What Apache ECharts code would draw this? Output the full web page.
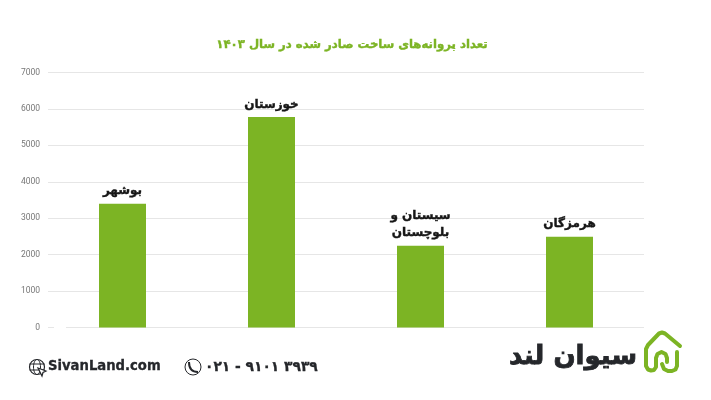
<!DOCTYPE html>
<html><head><meta charset="utf-8">
<style>html,body{margin:0;padding:0;background:#fff}#c{width:711px;height:400px}</style>
<script src="https://cdn.jsdelivr.net/npm/echarts@6/dist/echarts.min.js"></script>
</head><body><div id="c"></div>
<script>
const categories = ['بوشهر','خوزستان','سیستان و\nبلوچستان','هرمزگان'];
const permits = [3400,5780,2245,2490];
const titleText = 'تعداد پروانه‌های ساخت صادر شده در سال ۱۴۰۳';
const siteText = 'SivanLand.com';
const phoneText = '۰۲۱ - ۹۱۰۱ ۳۹۳۹';
const brandText = 'سیوان لند';
const green = '#7cb424', dark = '#25272b';
const font = '"DejaVu Sans"';
const chart = echarts.init(document.getElementById('c'), null, {renderer:'canvas'});
chart.setOption({
  animation:false,
  backgroundColor:'#fff',
  title:{text:titleText,left:347,top:34,textAlign:'center',
    textStyle:{color:green,fontFamily:font,fontWeight:'bold',fontSize:11.7,textBorderColor:green,textBorderWidth:0.4}},
  grid:{left:48,right:67,top:72.5,bottom:72.5},
  xAxis:{type:'category',data:categories,axisTick:{show:false},axisLabel:{show:false},
    axisLine:{show:false}},
  yAxis:{type:'value',min:0,max:7000,interval:1000,
    axisLine:{show:false},axisTick:{show:false},
    axisLabel:{color:'#777',fontSize:8.5,fontFamily:'Roboto',margin:8,formatter:(v)=>String(v)},
    splitLine:{lineStyle:{color:'#e6e6e6',width:1}}},
  series:[{type:'bar',data:permits,barWidth:47,itemStyle:{color:green},
    label:{show:true,position:'top',distance:4,formatter:'{b}',color:'#161616',
      fontFamily:font,fontWeight:'bold',fontSize:12,lineHeight:17,textBorderColor:'#161616',textBorderWidth:0.4}}],
  graphic:[
    {type:'rect',silent:true,z:1,shape:{x:54,y:326,width:12,height:4},style:{fill:'#fff'}},
    // footer: site
    {type:'circle',shape:{cx:37,cy:367,r:7.5},style:{fill:'none',stroke:dark,lineWidth:1.2}},
    {type:'ellipse',shape:{cx:37,cy:367,rx:3.5,ry:7.5},style:{fill:'none',stroke:dark,lineWidth:1}},
    {type:'line',shape:{x1:29.5,y1:364,x2:44.5,y2:364},style:{stroke:dark,lineWidth:1}},
    {type:'line',shape:{x1:29.5,y1:370,x2:44.5,y2:370},style:{stroke:dark,lineWidth:1}},
    {type:'polygon',shape:{points:[[38,368],[46,371],[43,372.5],[42,376]]},style:{fill:'#fff',stroke:dark,lineWidth:1.2}},
    {type:'text',style:{x:48,y:367,text:siteText,fill:dark,stroke:dark,lineWidth:0.3,fontFamily:font,fontWeight:'bold',fontSize:13.2,verticalAlign:'middle'}},
    // footer: phone
    {type:'circle',shape:{cx:193,cy:367,r:8},style:{fill:'none',stroke:dark,lineWidth:1}},
    {type:'bezierCurve',shape:{x1:189,y1:362,cpx1:189,cpy1:368,cpx2:192,cpy2:372,x2:198,y2:372},style:{fill:'none',stroke:dark,lineWidth:2}},
    {type:'text',style:{x:205,y:367,text:phoneText,fill:dark,stroke:dark,lineWidth:0.3,fontFamily:font,fontWeight:'bold',fontSize:13.8,verticalAlign:'middle'}},
    // brand
    {type:'text',style:{x:637,y:357,text:brandText,fill:dark,stroke:dark,lineWidth:0.8,fontFamily:font,fontWeight:'bold',fontSize:26,align:'right',verticalAlign:'middle'}},
    {type:'polyline',shape:{points:[[680,346],[665,333.5],[662,332.5],[659,333.5],[648,345],[646,349],[646,366],[648,369.5],[651,370.5],[654,370],[656,367],[656,358],[657.5,354],[661.5,352],[665.5,354],[667,358],[667,362]]},style:{fill:'none',stroke:green,lineWidth:4,lineCap:'round',lineJoin:'round'}},
    {type:'polyline',shape:{points:[[677,352],[677,366],[675.5,369.5],[672,371],[668,371],[664,369],[662,364]]},style:{fill:'none',stroke:green,lineWidth:4,lineCap:'round',lineJoin:'round'}}
  ]
});
</script></body></html>
